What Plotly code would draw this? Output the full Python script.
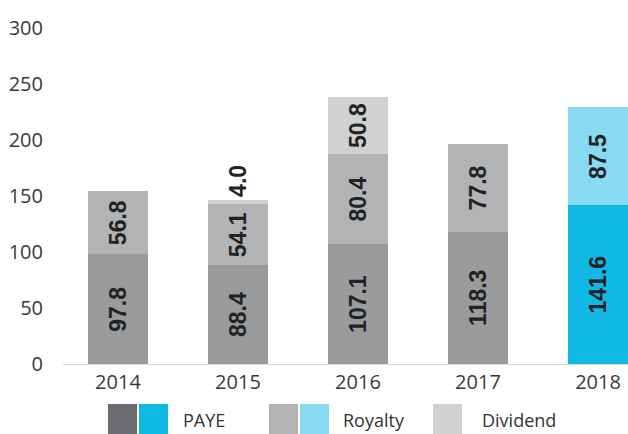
import plotly.graph_objects as go

years = ["2014", "2015", "2016", "2017", "2018"]
paye = [97.8, 88.4, 107.1, 118.3, 141.6]
royalty = [56.8, 54.1, 80.4, 77.8, 87.5]
dividend = [None, 4.0, 50.8, None, None]
y_ticks = [0, 50, 100, 150, 200, 250, 300]

paye_colors = ["#999b9c"] * 4 + ["#10b9e4"]
roy_colors = ["#b1b3b4"] * 4 + ["#88daf2"]
div_colors = ["#d0d1d1"] * 5

def fmt(v):
    return "" if v is None else f"{v:.1f}"

lab_font = dict(family="Liberation Sans", size=23, color="#222222")

fig = go.Figure()
fig.add_bar(x=years, y=paye, marker=dict(color=paye_colors, line=dict(width=0)),
            text=[fmt(v) for v in paye], textposition="inside", textangle=-90,
            insidetextanchor="middle", insidetextfont=lab_font, constraintext="none",
            texttemplate="<b>%{text}</b>", width=0.5, name="PAYE")
fig.add_bar(x=years, y=royalty, marker=dict(color=roy_colors, line=dict(width=0)),
            text=[fmt(v) for v in royalty], textposition="inside", textangle=-90,
            insidetextanchor="middle", insidetextfont=lab_font, constraintext="none",
            texttemplate="<b>%{text}</b>", width=0.5, name="Royalty")
fig.add_bar(x=years, y=dividend, marker=dict(color=div_colors, line=dict(width=0)),
            text=[fmt(v) for v in dividend],
            textposition=["inside", "outside", "inside", "inside", "inside"],
            textangle=-90, insidetextanchor="middle", insidetextfont=lab_font,
            outsidetextfont=lab_font, constraintext="none", cliponaxis=False,
            texttemplate="<b>%{text}</b>", width=0.5, name="Dividend")

tick_font = dict(family="Open Sans", size=20, color="#3a3a3a")

fig.update_layout(
    barmode="stack",
    width=628, height=434,
    margin=dict(l=63, r=0, t=28, b=70),
    plot_bgcolor="white", paper_bgcolor="white",
    showlegend=False,
    xaxis=dict(range=[-0.458, 4.25], showgrid=False, showline=True, linecolor="#d9d9d9",
               linewidth=1, ticks="", tickfont=tick_font, fixedrange=True),
    yaxis=dict(range=[0, 300], tickvals=y_ticks, showgrid=False, zeroline=False,
               showline=False, tickfont=tick_font, ticklabelstandoff=19),
)

# Custom legend (decoration in pixel positions)
W, H = 628, 434
L, R, T, B = 63, 0, 28, 70
pw, ph = W - L - R, H - T - B

def px(x):
    return (x - L) / pw

def py(y):
    return (H - B - y) / ph

legend_boxes = [
    (108, 137, "#6b6c70"), (139, 168, "#10b9e4"),
    (269, 298, "#b1b3b4"), (300, 329, "#88daf2"),
    (433, 462, "#d0d1d1"),
]
for x0, x1, c in legend_boxes:
    fig.add_shape(type="rect", xref="paper", yref="paper",
                  x0=px(x0), x1=px(x1), y0=py(434), y1=py(404),
                  fillcolor=c, line=dict(width=0))

legend_texts = [(181, "PAYE"), (341, "Royalty"), (480, "Dividend")]
for x, t in legend_texts:
    fig.add_annotation(xref="paper", yref="paper", x=px(x), y=py(420),
                       text=t, showarrow=False, xanchor="left", yanchor="middle",
                       font=dict(family="Open Sans", size=18, color="#333333"))

fig.write_html("out.html", config={"displayModeBar": False},
               post_script="document.body.style.margin='0';document.body.style.overflow='hidden';")
